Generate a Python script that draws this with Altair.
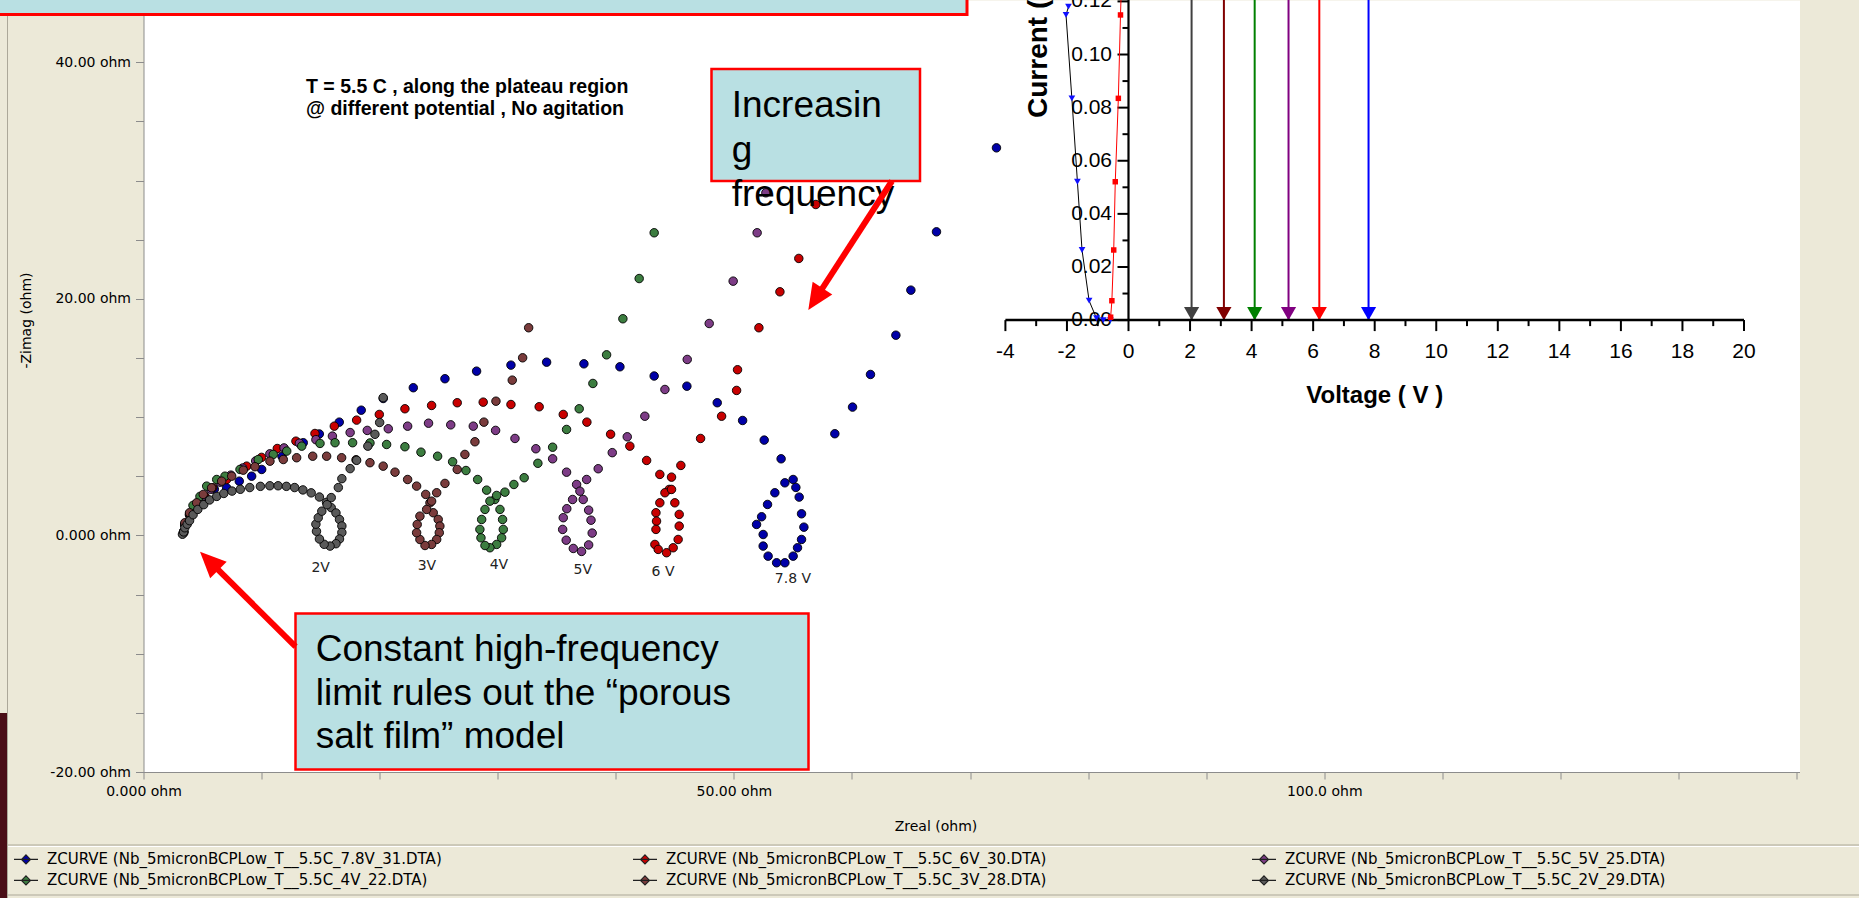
import math
import altair as alt
import pandas as pd

# ---------------- Nyquist data (ohm) ----------------
SERIES_LABELS = [
    "ZCURVE (Nb_5micronBCPLow_T__5.5C_7.8V_31.DTA)",
    "ZCURVE (Nb_5micronBCPLow_T__5.5C_6V_30.DTA)",
    "ZCURVE (Nb_5micronBCPLow_T__5.5C_5V_25.DTA)",
    "ZCURVE (Nb_5micronBCPLow_T__5.5C_4V_22.DTA)",
    "ZCURVE (Nb_5micronBCPLow_T__5.5C_3V_28.DTA)",
    "ZCURVE (Nb_5micronBCPLow_T__5.5C_2V_29.DTA)",
]
SERIES_COLORS = ["#0000A8", "#C80000", "#7D3C86", "#3C7D40", "#7A3C3C", "#5A5A5A"]

ZRE_7_8V = [3.4, 3.5, 3.9, 4.5, 5.2, 6.0, 7.04, 8.11, 9.16, 10.01, 11.73, 13.53, 14.89, 16.58, 18.44,
            20.3, 22.85, 25.53, 28.21, 31.12, 34.14, 37.3, 40.35, 43.25, 46.02, 48.59, 50.74, 52.57,
            54.0, 55.02, 54.32, 53.47, 52.85, 52.35, 51.92, 52.48, 52.48, 52.9, 53.62, 54.32, 55.02,
            55.39, 55.73, 55.93, 55.73, 55.53, 55.25, 58.55, 60.05, 61.57, 63.72, 64.99, 67.16, 72.24]
ZIM_7_8V = [0.3, 0.9, 1.8, 2.6, 3.3, 3.9, 4.03, 4.59, 5.01, 5.58, 6.68, 7.84, 8.58, 9.58, 10.59,
            11.58, 12.49, 13.25, 13.89, 14.4, 14.65, 14.51, 14.26, 13.48, 12.62, 11.22, 9.72, 8.06,
            6.48, 4.73, 4.45, 3.61, 2.62, 1.58, 0.93, 0.08, -0.9, -1.75, -2.31, -2.31, -1.75,
            -1.04, -0.34, 0.7, 1.83, 3.24, 4.06, 8.6, 10.85, 13.61, 16.93, 20.74, 25.67, 32.77]

ZRE_6V = [3.4, 3.5, 3.9, 4.5, 5.2, 5.86, 7.04, 8.74, 10.0, 11.33, 12.91, 14.52, 16.16, 18.05, 19.97,
          22.14, 24.4, 26.57, 28.77, 31.12, 33.51, 35.55, 37.55, 39.56, 41.19, 42.61, 43.73, 44.52,
          44.16, 43.73, 43.4, 43.45, 43.4, 43.31, 43.59, 44.3, 44.86, 45.28, 45.37, 45.37, 45.0,
          44.72, 44.72, 45.51, 47.18, 48.96, 50.23, 50.31, 52.12, 53.9, 55.5, 56.94]
ZIM_6V = [0.3, 0.9, 1.7, 2.5, 3.3, 4.03, 4.73, 5.86, 6.6, 7.35, 7.97, 8.62, 9.24, 9.75, 10.23,
          10.71, 10.99, 11.22, 11.27, 11.07, 10.88, 10.23, 9.58, 8.56, 7.55, 6.34, 5.16, 3.89,
          3.61, 2.76, 1.92, 1.21, 0.51, -0.76, -1.18, -1.46, -1.04, -0.34, 0.79, 1.78, 2.76,
          3.89, 4.93, 5.92, 8.2, 10.08, 12.26, 14.01, 17.56, 20.6, 23.42, 27.98]

ZRE_5V = [3.4, 3.5, 3.9, 4.4, 5.0, 5.7, 6.5, 7.4, 8.4, 9.5, 10.7, 11.9, 13.2, 14.6, 16.0, 17.5,
          18.95, 20.73, 22.37, 24.14, 26.02, 27.93, 29.82, 31.46, 33.23, 34.65, 35.83, 36.68,
          36.96, 36.34, 35.85, 35.55, 35.5, 35.8, 36.4, 37.1, 37.7, 38.0, 37.9, 37.7, 37.24,
          37.53, 38.51, 39.7, 40.97, 42.46, 44.16, 46.05, 47.91, 49.94, 51.97, 52.71]
ZIM_5V = [0.3, 0.9, 1.8, 2.6, 3.3, 3.9, 4.5, 5.1, 5.7, 6.3, 6.9, 7.4, 7.8, 8.1, 8.4, 8.7,
          8.88, 9.02, 9.24, 9.49, 9.35, 9.24, 8.88, 8.2, 7.33, 6.48, 5.35, 4.31,
          3.74, 3.04, 2.26, 1.5, 0.51, -0.4, -1.1, -1.35, -0.8, 0.2, 1.29, 2.14, 3.04,
          4.73, 5.64, 7.0, 8.34, 10.08, 12.34, 14.88, 17.92, 21.5, 25.59, 28.97]

ZRE_4V = [3.4, 3.51, 3.94, 4.19, 4.78, 5.35, 6.2, 6.9, 8.17, 9.72, 10.99, 12.13, 13.4, 14.95,
          16.22, 17.71, 19.18, 20.59, 22.14, 23.5, 24.91, 26.18, 27.31, 28.3, 29.06, 29.76, 30.19,
          30.41, 30.47, 30.33, 29.91, 29.34, 28.92, 28.58, 28.49, 28.64, 28.92, 29.34, 29.91,
          30.61, 31.37, 32.24, 33.4, 34.65, 35.83, 36.9, 38.06, 39.22, 40.6, 41.98, 43.25]
ZIM_4V = [0.3, 0.93, 1.78, 2.54, 3.3, 4.17, 4.73, 5.01, 5.58, 6.42, 6.85, 7.13, 7.55, 7.78,
          7.84, 7.84, 7.82, 7.69, 7.5, 7.04, 6.7, 6.23, 5.49, 4.73, 3.83, 3.04, 2.2,
          1.35, 0.51, -0.2, -0.76, -1.04, -0.85, -0.2, 0.51, 1.35, 2.2, 2.9, 3.38,
          3.66, 4.31, 4.88, 6.1, 7.46, 8.96, 10.71, 12.85, 15.27, 18.32, 21.72, 25.59]

ZRE_3V = [3.4, 3.5, 3.9, 4.5, 5.06, 5.77, 6.62, 7.47, 8.45, 9.44, 10.71, 11.84, 12.97, 14.33,
          15.51, 16.78, 18.0, 19.18, 20.3, 21.3, 22.37, 23.13, 23.9, 24.26, 24.54, 24.96, 25.1,
          25.05, 24.83, 24.4, 23.84, 23.41, 23.13, 23.18, 23.41, 23.98, 24.4, 24.83, 25.53,
          26.57, 27.22, 28.07, 28.83, 29.85, 31.23, 32.11, 32.62]
ZIM_3V = [0.2, 1.07, 1.92, 2.76, 3.47, 4.03, 4.59, 5.01, 5.52, 5.81, 6.28, 6.42, 6.57, 6.7,
          6.7, 6.57, 6.4, 6.15, 5.86, 5.35, 4.73, 4.17, 3.47, 2.76, 1.92, 1.35, 0.79,
          0.23, -0.34, -0.76, -0.85, -0.34, 0.23, 0.93, 1.63, 2.2, 2.9, 3.61, 4.4,
          5.58, 6.85, 7.92, 9.58, 11.35, 13.13, 15.02, 17.56]

ZRE_2V = [3.3, 3.4, 3.5, 3.7, 3.9, 4.2, 4.6, 5.1, 5.6, 6.2, 6.8, 7.5, 8.2, 9.0, 9.9, 10.7, 11.4,
          12.1, 12.8, 13.5, 14.2, 14.9, 15.5, 15.9, 16.3, 16.6, 16.8, 16.8, 16.6, 16.3, 15.8,
          15.3, 14.9, 14.65, 14.6, 14.8, 15.1, 15.55, 15.9, 16.5, 16.8, 17.5, 18.05, 19.0, 19.6,
          20.0, 20.3]
ZIM_2V = [0.1, 0.3, 0.65, 0.95, 1.25, 1.75, 2.2, 2.6, 3.0, 3.3, 3.55, 3.75, 3.9, 4.05, 4.15, 4.2,
          4.2, 4.15, 4.05, 3.85, 3.6, 3.25, 2.8, 2.35, 1.9, 1.35, 0.8, 0.25, -0.3, -0.7, -0.9,
          -0.75, -0.3, 0.35, 0.95, 1.5, 2.05, 2.6, 3.2, 4.05, 4.8, 5.65, 6.35, 7.55, 8.55,
          9.55, 11.65]

LOOP_LABELS = ["2V", "3V", "4V", "5V", "6 V", "7.8 V"]
LOOP_LABEL_ZRE = [15.0, 24.0, 30.1, 37.2, 44.0, 55.0]
LOOP_LABEL_ZIM = [-2.75, -2.6, -2.5, -2.95, -3.05, -3.7]

# ---------------- inset (I-V) data ----------------
IV_BLACK_V = [-0.59, -0.82, -1.04, -1.28, -1.51, -1.66, -1.84, -2.03, -1.95]
IV_BLACK_I = [0.0, 0.0, 0.0007, 0.0073, 0.0264, 0.0521, 0.0835, 0.1149, 0.118]
IV_RED_V = [-0.58, -0.54, -0.48, -0.43, -0.33, -0.26, -0.22]
IV_RED_I = [0.0011, 0.0073, 0.0264, 0.0521, 0.0835, 0.1149, 0.13]
ARROW_V = [2.05, 3.1, 4.1, 5.2, 6.2, 7.8]
ARROW_COLORS = ["#404040", "#800000", "#008000", "#800080", "#FF0000", "#0000FF"]
INSET_V_MAJOR = list(range(-4, 21, 2))
INSET_V_MINOR = list(range(-3, 20, 2))
INSET_I_MAJOR = [0.00, 0.02, 0.04, 0.06, 0.08, 0.10, 0.12]
INSET_I_MINOR = [0.01, 0.03, 0.05, 0.07, 0.09, 0.11]

# ---------------- layout ----------------
W, H = 1656, 772
PAD_L, PAD_R, PAD_T, PAD_B = 143.5, 59.5, 0, 126
BEIGE = "#ECE9D8"
BOX_FILL = "#B9E0E3"
RED = "#FF0000"
UI_FONT = "DejaVu Sans"
SLIDE_FONT = "Liberation Sans"


def pv(x):
    return x - PAD_L


# ---------------- main Nyquist plot ----------------
zre_lists = [ZRE_7_8V, ZRE_6V, ZRE_5V, ZRE_4V, ZRE_3V, ZRE_2V]
zim_lists = [ZIM_7_8V, ZIM_6V, ZIM_5V, ZIM_4V, ZIM_3V, ZIM_2V]
rows = []
for lab, xs_, ys_ in zip(SERIES_LABELS, zre_lists, zim_lists):
    for a, b in zip(xs_, ys_):
        rows.append({"series": lab, "zre": a, "zim": b})
df = pd.DataFrame(rows)

mx = alt.Scale(domain=[0, 140.25], nice=False, zero=False)
my = alt.Scale(domain=[-20, 45.27], nice=False, zero=False)

OHM_LABEL = ("(datum.value == 0 ? '0.000' : (datum.value < 0 ? '-' : '') + "
             "format(abs(datum.value), '.4r')) + ' ohm'")

x_axis = alt.Axis(
    values=list(range(0, 141, 10)),
    labelExpr="datum.value % 50 == 0 ? " + OHM_LABEL + " : ''",
    title="Zreal (ohm)", titleX=792, titleY=54, titleBaseline="middle", titleAlign="center",
    titleFont=UI_FONT, titleFontSize=14, titleFontWeight="normal", titleColor="black",
    labelFont=UI_FONT, labelFontSize=14, labelColor="black", labelPadding=5, labelFlush=False,
    labelOverlap=False, tickSize=7, tickColor="#8C8C8C", domainColor="#8C8C8C", grid=False,
)
y_axis = alt.Axis(
    values=list(range(-20, 46, 5)),
    labelExpr="datum.value % 20 == 0 ? " + OHM_LABEL + " : ''",
    title="-Zimag (ohm)", titleX=-117.5, titleY=320, titleAngle=270, titleAlign="center",
    titleBaseline="middle", titleFont=UI_FONT, titleFontSize=14, titleFontWeight="normal",
    titleColor="black", labelFont=UI_FONT, labelFontSize=14, labelColor="black",
    labelPadding=5, labelFlush=False, labelOverlap=False, tickSize=8, tickColor="#8C8C8C",
    domainColor="#8C8C8C", grid=False,
)

LEGEND_SYMBOL = "M-1,0L1,0M0,-0.38L0.38,0L0,0.38L-0.38,0Z"
legend = alt.Legend(
    title=None, orient="none", legendX=13 - PAD_L, legendY=846.4, columns=3,
    direction="horizontal", gridAlign="all", columnPadding=188, rowPadding=0, padding=0,
    labelFont=UI_FONT, labelFontSize=15, labelColor="black", labelOffset=8, labelLimit=800,
    symbolType=LEGEND_SYMBOL, symbolSize=576, symbolStrokeWidth=1.1,
    symbolStrokeColor="#202020", symbolOpacity=1,
)

points = alt.Chart(df).mark_point(
    filled=True, size=72, stroke="black", strokeWidth=0.9, opacity=1
).encode(
    x=alt.X("zre:Q", scale=mx, axis=x_axis),
    y=alt.Y("zim:Q", scale=my, axis=y_axis),
    color=alt.Color("series:N", scale=alt.Scale(domain=SERIES_LABELS, range=SERIES_COLORS),
                    legend=legend),
)

lab_df = pd.DataFrame({"zre": LOOP_LABEL_ZRE, "zim": LOOP_LABEL_ZIM, "lab": LOOP_LABELS})
loop_labels = alt.Chart(lab_df).mark_text(
    font=UI_FONT, fontSize=14, color="#222222", baseline="middle", align="center"
).encode(x=alt.X("zre:Q", scale=mx), y=alt.Y("zim:Q", scale=my), text="lab:N")

# ---------------- overlays (slide decorations, pixel placed) ----------------
dummy = pd.DataFrame({"k": [0]})


def rect(x1, y1, x2, y2, fill, stroke=None, sw=0):
    kw = dict(fill=fill, opacity=1)
    if stroke:
        kw.update(stroke=stroke, strokeWidth=sw)
    return alt.Chart(dummy).mark_rect(**kw).encode(
        x=alt.value(pv(x1)), x2=alt.value(pv(x2)), y=alt.value(y1), y2=alt.value(y2))


def hline(x1, x2, y, color, sw=1.0):
    return alt.Chart(dummy).mark_rule(color=color, strokeWidth=sw).encode(
        x=alt.value(pv(x1)), x2=alt.value(pv(x2)), y=alt.value(y))


def vline(x, y1, y2, color, sw=1.0):
    return alt.Chart(dummy).mark_rule(color=color, strokeWidth=sw).encode(
        x=alt.value(pv(x)), y=alt.value(y1), y2=alt.value(y2))


def text(x, y, s, size, weight="normal", font=SLIDE_FONT, align="left", baseline="alphabetic",
         color="black"):
    return alt.Chart(dummy).mark_text(
        text=s, font=font, fontSize=size, fontWeight=weight, align=align, baseline=baseline,
        color=color).encode(x=alt.value(pv(x)), y=alt.value(y))


HEAD = "M0,-1L0.9,1L-0.9,1Z"


def arrow(tail, tip, head_len=26, sw=6):
    dx, dy = tip[0] - tail[0], tip[1] - tail[1]
    L = math.hypot(dx, dy)
    ux, uy = dx / L, dy / L
    cx, cy = tip[0] - ux * head_len / 2, tip[1] - uy * head_len / 2
    ang = math.degrees(math.atan2(ux, -uy)) % 360
    shaft = alt.Chart(dummy).mark_rule(color=RED, strokeWidth=sw, strokeCap="butt").encode(
        x=alt.value(pv(tail[0])), y=alt.value(tail[1]), x2=alt.value(pv(cx)), y2=alt.value(cy))
    head = alt.Chart(dummy).mark_point(
        shape=HEAD, filled=True, color=RED, size=head_len ** 2, angle=ang, opacity=1,
        strokeWidth=0).encode(x=alt.value(pv(cx)), y=alt.value(cy))
    return [shaft, head]


overlays = [
    # window chrome
    rect(0, 713, 7, 898, "#4A0E17"),
    vline(7.5, 0, 898, "#ACA899"),
    hline(8, 1859, 845, "#ACA899"),
    hline(8, 1859, 846.5, "#FFFFFF"),
    hline(8, 1859, 895, "#ACA899"),
    # top banner box
    rect(-10, -10, 967, 14.5, BOX_FILL, RED, 3),
    # plot note
    text(306, 86.5, "T = 5.5 C , along the plateau region", 19.5, "bold", baseline="middle"),
    text(306, 109, "@ different potential , No agitation", 19.5, "bold", baseline="middle"),
    # increasing frequency callout
    rect(711.5, 69, 920, 181, BOX_FILL, RED, 2.5),
    text(731.7, 117.4, "Increasin", 37),
    text(731.7, 161.7, "g", 37),
    text(731.7, 206.0, "frequency", 37),
    # high-frequency limit callout
    rect(295.5, 613.5, 808.5, 769.5, BOX_FILL, RED, 2.5),
    text(315.7, 660.7, "Constant high-frequency", 37),
    text(315.7, 705.0, "limit rules out the \u201cporous", 37),
    text(315.7, 748.3, "salt film\u201d model", 37),
]
overlays += arrow((892, 181), (808.3, 310))
overlays += arrow((295.6, 646.7), (200, 551.7))

main = alt.layer(points, loop_labels, *overlays)

# ---------------- inset I-V plot ----------------
ix = alt.Scale(domain=[-4, 20], range=[pv(1005.4), pv(1744.0)], nice=False, zero=False)
iy = alt.Scale(domain=[0, 0.12], range=[320.1, 1.4], nice=False, zero=False)


def IX(f):
    return alt.X(f, type="quantitative", scale=ix, axis=None)


def IY(f):
    return alt.Y(f, type="quantitative", scale=iy, axis=None)


blk = pd.DataFrame({"v": IV_BLACK_V, "i": IV_BLACK_I, "k": list(range(len(IV_BLACK_V)))})
red = pd.DataFrame({"v": IV_RED_V, "i": IV_RED_I, "k": list(range(len(IV_RED_V)))})
arr = pd.DataFrame({"v": ARROW_V, "c": ARROW_COLORS, "lo": [0.0] * 6, "hi": [0.135] * 6})

inset_layers = [
    alt.Chart(arr).mark_rule(strokeWidth=2).encode(
        x=IX("v"), y=IY("lo"), y2="hi", color=alt.Color("c:N", scale=None)),
    alt.Chart(arr).mark_point(shape="triangle-down", filled=True, size=230, opacity=1,
                              yOffset=-6.5).encode(
        x=IX("v"), y=IY("lo"), color=alt.Color("c:N", scale=None)),
    # axes
    alt.Chart(pd.DataFrame({"a": [-4], "b": [20], "y": [0]})).mark_rule(
        color="black", strokeWidth=2.5).encode(x=IX("a"), x2="b", y=IY("y")),
    alt.Chart(pd.DataFrame({"x": [0], "a": [0], "b": [0.135]})).mark_rule(
        color="black", strokeWidth=2.2).encode(x=IX("x"), y=IY("a"), y2="b"),
    alt.Chart(pd.DataFrame({"v": INSET_V_MAJOR, "y": [0] * len(INSET_V_MAJOR)})).mark_tick(
        orient="vertical", size=11, thickness=2, color="black", yOffset=5.5, opacity=1).encode(
        x=IX("v"), y=IY("y")),
    alt.Chart(pd.DataFrame({"v": INSET_V_MINOR, "y": [0] * len(INSET_V_MINOR)})).mark_tick(
        orient="vertical", size=6, thickness=2, color="black", yOffset=3, opacity=1).encode(
        x=IX("v"), y=IY("y")),
    alt.Chart(pd.DataFrame({"i": INSET_I_MAJOR, "x": [0] * len(INSET_I_MAJOR)})).mark_tick(
        orient="horizontal", size=11, thickness=2, color="black", xOffset=-5.5, opacity=1).encode(
        x=IX("x"), y=IY("i")),
    alt.Chart(pd.DataFrame({"i": INSET_I_MINOR, "x": [0] * len(INSET_I_MINOR)})).mark_tick(
        orient="horizontal", size=6, thickness=2, color="black", xOffset=-3, opacity=1).encode(
        x=IX("x"), y=IY("i")),
    alt.Chart(pd.DataFrame({"v": INSET_V_MAJOR, "y": [0] * len(INSET_V_MAJOR),
                            "t": [str(v) for v in INSET_V_MAJOR]})).mark_text(
        font=SLIDE_FONT, fontSize=21, color="black", baseline="middle", align="center",
        dy=31.6).encode(x=IX("v"), y=IY("y"), text="t:N"),
    alt.Chart(pd.DataFrame({"i": INSET_I_MAJOR, "x": [0] * len(INSET_I_MAJOR),
                            "t": [f"{v:.2f}" for v in INSET_I_MAJOR]})).mark_text(
        font=SLIDE_FONT, fontSize=21, color="black", baseline="middle", align="right",
        dx=-16.5).encode(x=IX("x"), y=IY("i"), text="t:N"),
    # data curves
    alt.Chart(blk).mark_line(color="black", strokeWidth=1).encode(
        x=IX("v"), y=IY("i"), order="k:Q"),
    alt.Chart(red).mark_line(color=RED, strokeWidth=1).encode(
        x=IX("v"), y=IY("i"), order="k:Q"),
    alt.Chart(blk).mark_point(shape="triangle-down", filled=True, color="#1010FF", size=45,
                              opacity=1).encode(x=IX("v"), y=IY("i")),
    alt.Chart(red).mark_point(shape="square", filled=True, color=RED, size=30,
                              opacity=1).encode(x=IX("v"), y=IY("i")),
    # titles
    alt.Chart(pd.DataFrame({"x": [8], "y": [0]})).mark_text(
        text="Voltage ( V )", font=SLIDE_FONT, fontSize=24, fontWeight="bold", color="black",
        align="center", baseline="middle", dy=75.6).encode(x=IX("x"), y=IY("y")),
    alt.Chart(pd.DataFrame({"x": [-2.91], "y": [0.0761]})).mark_text(
        text="Current (", font=SLIDE_FONT, fontSize=28, fontWeight="bold", color="black",
        align="left", baseline="middle", angle=270).encode(x=IX("x"), y=IY("y")),
]
inset = alt.layer(*inset_layers)

chart = alt.layer(main, inset).resolve_scale(
    x="independent", y="independent"
).properties(
    width=W, height=H,
    padding={"left": PAD_L, "right": PAD_R, "top": PAD_T, "bottom": PAD_B},
    autosize=alt.AutoSizeParams(type="none"),
    background=BEIGE,
).configure_view(fill="white", stroke="transparent")

chart.save("out.html", embed_options={"renderer": "svg", "actions": False})
